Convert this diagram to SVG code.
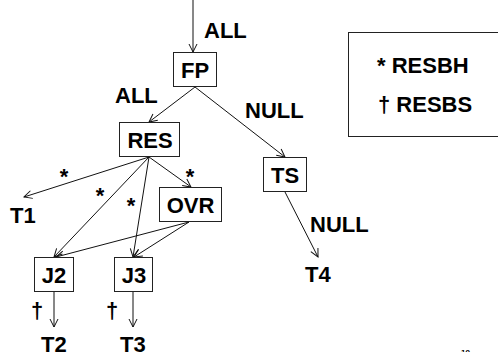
<svg xmlns="http://www.w3.org/2000/svg" width="498" height="352" viewBox="0 0 498 352">
  <style>
    .box { fill: #fff; stroke: #222; stroke-width: 1; }
    .edge { fill: none; stroke: #111; stroke-width: 1; marker-end: url(#arrow); }
    text { font-family: "Liberation Sans", Arial, sans-serif; font-weight: bold; font-size: 22px; fill: #000; }
    .c { text-anchor: middle; }
  </style>
  <defs>
    <marker id="arrow" markerUnits="userSpaceOnUse" viewBox="0 0 10 10" refX="9" refY="5" markerWidth="10" markerHeight="10" orient="auto">
      <path d="M1,1 L9,5 L1,9" fill="none" stroke="#111" stroke-width="1"/>
    </marker>
  </defs>
  <rect width="498" height="352" fill="#fff"/>

  <!-- connectors -->
  <g id="connectors">
    <line class="edge" x1="193" y1="0" x2="193" y2="52"/>
    <line class="edge" x1="195" y1="87" x2="149" y2="122"/>
    <line class="edge" x1="195" y1="87" x2="285" y2="157"/>
    <line class="edge" x1="149" y1="157" x2="24" y2="197"/>
    <line class="edge" x1="149" y1="157" x2="54" y2="257"/>
    <line class="edge" x1="149" y1="157" x2="133" y2="257"/>
    <line class="edge" x1="149" y1="157" x2="191" y2="187"/>
    <line class="edge" x1="189" y1="222" x2="56" y2="257"/>
    <line class="edge" x1="189" y1="222" x2="134" y2="257"/>
    <line class="edge" x1="54" y1="292" x2="54" y2="327"/>
    <line class="edge" x1="133" y1="292" x2="133" y2="327"/>
    <line class="edge" x1="285" y1="192" x2="318" y2="257"/>
  </g>

  <!-- edge labels -->
  <g id="edge-labels">
    <text x="204" y="38">ALL</text>
    <text x="115" y="103">ALL</text>
    <text x="245" y="118">NULL</text>
    <text x="310" y="232">NULL</text>
    <text class="c" x="64" y="184">*</text>
    <text class="c" x="100" y="203">*</text>
    <text class="c" x="131" y="213">*</text>
    <text class="c" x="190" y="184">*</text>
    <text class="c" x="37" y="318">†</text>
    <text class="c" x="112" y="318">†</text>
  </g>

  <!-- nodes -->
  <g id="node-FP">
    <rect class="box" x="173.5" y="52.5" width="43" height="34"/>
    <text class="c" x="195" y="78">FP</text>
  </g>
  <g id="node-RES">
    <rect class="box" x="119.5" y="122.5" width="60" height="34"/>
    <text class="c" x="150" y="148">RES</text>
  </g>
  <g id="node-TS">
    <rect class="box" x="263.5" y="157.5" width="43" height="34"/>
    <text class="c" x="285" y="183">TS</text>
  </g>
  <g id="node-OVR">
    <rect class="box" x="159.5" y="187.5" width="62" height="34"/>
    <text class="c" x="190.5" y="213">OVR</text>
  </g>
  <g id="node-J2">
    <rect class="box" x="34.5" y="257.5" width="39" height="34"/>
    <text class="c" x="54" y="283">J2</text>
  </g>
  <g id="node-J3">
    <rect class="box" x="114.5" y="257.5" width="38" height="34"/>
    <text class="c" x="134" y="283">J3</text>
  </g>

  <!-- terminals -->
  <g id="node-T1"><text x="10" y="223">T1</text></g>
  <g id="node-T2"><text x="41" y="352">T2</text></g>
  <g id="node-T3"><text x="120" y="352">T3</text></g>
  <g id="node-T4"><text x="305" y="282">T4</text></g>

  <!-- legend -->
  <g id="legend">
    <rect class="box" x="348.5" y="32.5" width="160" height="104"/>
    <text x="377" y="73">* RESBH</text>
    <text x="378" y="112">† RESBS</text>
  </g>

  <!-- page number -->
  <text x="461" y="355" style="font-size:8px">19</text>
</svg>
